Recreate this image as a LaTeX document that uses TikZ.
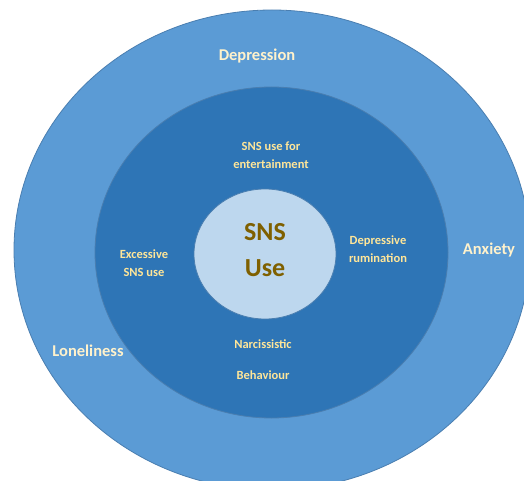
\documentclass[tikz,border=0pt]{standalone}
\usepackage{fontspec}
\setmainfont{Carlito}
\usetikzlibrary{shapes.geometric}
\definecolor{outerblue}{HTML}{5B9BD5}
\definecolor{midblue}{HTML}{2E75B6}
\definecolor{coreblue}{HTML}{BDD7EE}
\definecolor{ringedge}{HTML}{4A7EB0}
\definecolor{cream}{HTML}{FFF2CC}
\definecolor{paleyellow}{HTML}{FFE699}
\definecolor{darkgold}{HTML}{7F6000}
\tikzset{%
    ring/.style={inner sep=0pt,outer sep=0pt,shape=ellipse,draw=ringedge,line width=0.8pt},
    outer label/.style={text=cream,font=\fontsize{16.5}{20}\selectfont\bfseries},
    mid label/.style={text=paleyellow,align=center,font=\fontsize{12.5}{18}\selectfont\bfseries},
    core label/.style={text=darkgold,align=center,font=\fontsize{26}{36}\selectfont\bfseries},
}
\begin{document}
\begin{tikzpicture}[x=1pt,y=-1pt]
        \useasboundingbox (0,0) rectangle (524,481);
        \node [ring,fill=outerblue,minimum width=516pt,minimum height=480pt] (outer) at (272,250) {};
        \node [ring,fill=midblue,minimum width=353pt,minimum height=331pt] (middle) at (271.5,252.5) {};
        \node [ring,fill=coreblue,minimum width=142pt,minimum height=130pt] (core) at (265,254) {};

        \node [core label] (snsuse) at (265,250) {SNS\\Use};

        \node [outer label] (depression) at (257,56) {Depression};
        \node [outer label] (anxiety) at (489,250) {Anxiety};
        \node [outer label] (loneliness) at (88,351) {Loneliness};

        \node [mid label] (entertainment) at (271,155) {SNS use for\\entertainment};
        \node [mid label] (excessive) at (144,263) {Excessive\\SNS use};
        \node [mid label] (rumination) at (378,249) {Depressive\\rumination};
        \node [mid label,font=\fontsize{12.5}{31}\selectfont\bfseries] (narcissistic) at (263,359.5) {Narcissistic\\Behaviour};
\end{tikzpicture}
\end{document}
